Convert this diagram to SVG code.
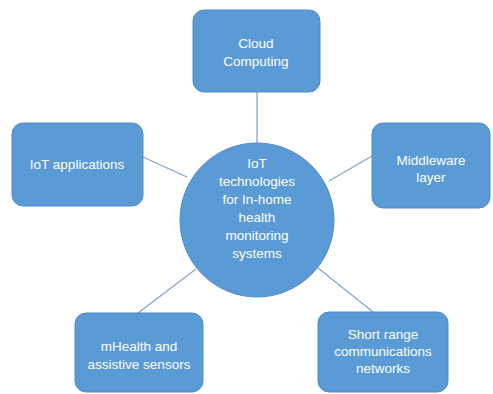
<svg xmlns="http://www.w3.org/2000/svg" width="493" height="394" viewBox="0 0 493 394">
<style>
.box{fill:#5b9bd5;stroke:#4f8ccb;stroke-width:1}
.t{font-family:"Liberation Sans",Arial,sans-serif;font-size:13.5px;fill:#ffffff;text-anchor:middle}
.c{stroke:#8aa4c4;stroke-width:1.3;fill:none}
</style>
<rect width="493" height="394" fill="#ffffff"/>
<g id="connectors">
<line class="c" x1="257" y1="92" x2="257" y2="144"/>
<line class="c" x1="143" y1="157" x2="187" y2="177"/>
<line class="c" x1="372" y1="156" x2="329" y2="181"/>
<line class="c" x1="138" y1="313" x2="196" y2="269"/>
<line class="c" x1="373" y1="312" x2="318" y2="268"/>
</g>
<g id="center">
<circle class="box" cx="257" cy="220" r="77"/>
<text class="t"><tspan x="257" y="168">IoT</tspan><tspan x="257" y="186">technologies</tspan><tspan x="257" y="204">for In-home</tspan><tspan x="257" y="222">health</tspan><tspan x="257" y="240">monitoring</tspan><tspan x="257" y="258">systems</tspan></text>
</g>
<g id="cloud">
<rect class="box" x="193" y="10" width="127" height="82" rx="11"/>
<text class="t"><tspan x="256" y="48">Cloud</tspan><tspan x="256" y="66">Computing</tspan></text>
</g>
<g id="iotapps">
<rect class="box" x="12" y="123" width="131" height="83" rx="11"/>
<text class="t" x="77" y="169">IoT applications</text>
</g>
<g id="middleware">
<rect class="box" x="372" y="123" width="118" height="85" rx="11"/>
<text class="t"><tspan x="431" y="165">Middleware</tspan><tspan x="431" y="182">layer</tspan></text>
</g>
<g id="mhealth">
<rect class="box" x="75" y="313" width="128" height="79" rx="11"/>
<text class="t"><tspan x="139" y="351">mHealth and</tspan><tspan x="139" y="369">assistive sensors</tspan></text>
</g>
<g id="shortrange">
<rect class="box" x="318" y="312" width="130" height="80" rx="11"/>
<text class="t"><tspan x="383" y="339">Short range</tspan><tspan x="383" y="356">communications</tspan><tspan x="383" y="373">networks</tspan></text>
</g>
</svg>
